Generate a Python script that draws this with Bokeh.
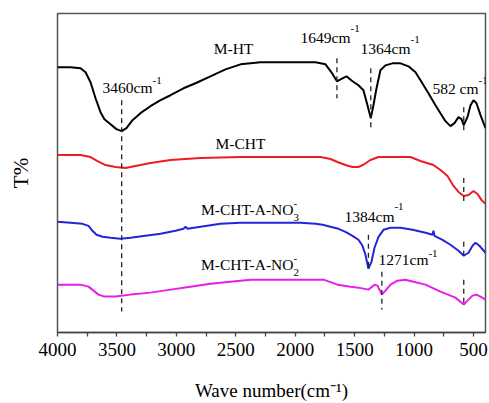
from bokeh.plotting import figure
from bokeh.models import Range1d, FixedTicker, ColumnDataSource
from bokeh.core.properties import value
from bokeh.embed import file_html
from bokeh.resources import INLINE

# FTIR spectra (wavenumber in cm^-1, transmittance in offset arbitrary units)
wn_ht = [4000, 3891, 3806, 3764, 3722, 3680, 3638, 3605, 3554, 3504, 3460, 3420, 3369,
         3302, 3218, 3133, 3049, 2940, 2839, 2713, 2587, 2460, 2292, 2040, 1829, 1745,
         1695, 1649, 1619, 1569, 1518, 1468, 1426, 1392, 1364, 1342, 1316, 1283, 1241,
         1182, 1114, 1047, 988, 946, 879, 820, 778, 736, 694, 660, 626, 601, 582, 551,
         525, 500, 475, 441, 399]
t_ht = [265, 265, 264, 260, 250, 234, 220, 213, 208, 203, 201, 204, 212,
        219, 226, 232, 237, 244, 249, 256, 263, 268, 270, 270, 270, 268,
        260, 251, 253, 256, 251, 247, 242, 227, 214, 227, 244, 262, 267,
        269, 269, 266, 260, 252, 239, 227, 219, 211, 206, 209, 215, 213, 207, 215,
        227, 232, 229, 217, 204]

wn_cht = [4000, 3806, 3722, 3663, 3596, 3512, 3428, 3344, 3218, 3049, 2797, 2460, 2124,
          1787, 1703, 1644, 1577, 1518, 1468, 1417, 1367, 1299, 1198, 1030, 946, 837,
          778, 719, 668, 626, 582, 542, 500, 466, 433, 399]
t_cht = [177, 177, 175, 171, 167, 165, 164, 166, 169, 172, 174, 175, 175,
         175, 173, 170, 167, 165, 165, 168, 172, 175, 175, 175, 171, 167,
         162, 156, 146, 140, 136, 137, 141, 138, 132, 128]

wn_no3 = [4000, 3891, 3790, 3739, 3706, 3672, 3621, 3554, 3470, 3386, 3260, 3133, 3007,
          2940, 2923, 2906, 2797, 2629, 2460, 2208, 1956, 1829, 1770, 1703, 1636, 1577,
          1518, 1468, 1434, 1409, 1384, 1358, 1333, 1299, 1257, 1198, 1114, 1013, 904,
          845, 837, 828, 761, 694, 626, 582, 542, 508, 483, 450, 399]
t_no3 = [110, 109, 108, 106, 101, 97, 95, 94, 93, 94, 96, 98, 101,
         103, 105, 103, 105, 108, 109, 109, 109, 108, 107, 105, 103, 100,
         96, 92, 86, 77, 63, 70, 84, 95, 102, 104, 104, 102, 99,
         97, 101, 96, 92, 87, 81, 76, 79, 86, 89, 86, 79]

wn_no2 = [4000, 3806, 3739, 3697, 3655, 3605, 3512, 3386, 3218, 3049, 2881, 2713, 2545,
          2376, 2124, 1871, 1762, 1644, 1535, 1468, 1384, 1333, 1308, 1283, 1271, 1241,
          1198, 1140, 1072, 1005, 904, 778, 652, 582, 559, 508, 475, 441, 399]
t_no2 = [47, 47, 45, 41, 37, 35, 35, 37, 39, 42, 45, 48, 50,
         52, 52, 52, 52, 47, 45, 44, 42, 47, 46, 40, 37, 41,
         47, 51, 52, 50, 47, 40, 34, 27, 30, 36, 37, 35, 32]

# Band markers: wavenumber, top and bottom of each dashed guide
band_wn = [3460, 1649, 1364, 582, 582, 582, 582, 1384, 1271]
band_top = [232, 274, 264, 225, 154, 90, 52, 97, 60]
band_bottom = [20, 234, 204, 199, 127, 75, 25, 62, 22]

# Annotation texts
ann_text = ["M-HT", "3460cm", "1649cm", "1364cm", "582 cm", "M-CHT",
            "M-CHT-A-NO", "M-CHT-A-NO", "1384cm", "1271cm"]
ann_x = [2519, 3201, 1535, 1030, 458, 2671, 2015, 2015, 1165, 879]
ann_y = [284, 245, 295, 284, 244, 189, 122, 67, 115, 72]
ann_align = ["center", "right", "right", "right", "right", "left",
             "right", "right", "right", "right"]

small_text = ["-1", "-1", "-1", "-1", "-", "3", "-", "2", "-1", "-1"]
small_x = [3201, 1535, 1030, 458, 2015, 2015, 2015, 2015, 1165, 879]
small_y = [252, 304, 293, 252, 128, 114, 73, 59, 125, 78]

x_ticks = [4000, 3500, 3000, 2500, 2000, 1500, 1000, 500]
x_minor = [3750, 3250, 2750, 2250, 1750, 1250, 750]

FONT = "Liberation Serif"

p = figure(width=489, height=403, output_backend="svg", toolbar_location=None,
           x_range=Range1d(4000, 399), y_range=Range1d(-1, 319),
           min_border_left=57, min_border_right=4, min_border_top=13,
           min_border_bottom=70)
p.background_fill_color = "white"
p.border_fill_color = "white"
p.outline_line_color = "#555555"
p.outline_line_width = 1.5
p.xgrid.visible = False
p.ygrid.visible = False

ax = p.xaxis[0]
ax.ticker = FixedTicker(ticks=x_ticks, minor_ticks=x_minor)
ax.axis_line_color = "#444444"
ax.axis_line_width = 1.5
ax.major_tick_line_color = "#444444"
ax.minor_tick_line_color = "#444444"
ax.major_tick_line_width = 1.3
ax.minor_tick_line_width = 1.3
ax.major_tick_in = 0
ax.major_tick_out = 4
ax.minor_tick_in = 0
ax.minor_tick_out = 4
ax.major_label_text_font = FONT
ax.major_label_text_font_size = "19px"
ax.major_label_text_color = "black"
ax.major_label_standoff = 6
ax.axis_label = "Wave number(cm\u207b\u00b9)"
ax.axis_label_text_font = FONT
ax.axis_label_text_font_size = "19px"
ax.axis_label_text_font_style = "normal"
ax.axis_label_text_color = "black"
ax.axis_label_standoff = 21

ay = p.yaxis[0]
ay.ticker = FixedTicker(ticks=[])
ay.axis_line_color = None
ay.major_tick_line_color = None
ay.minor_tick_line_color = None
ay.axis_label = "T%"
ay.axis_label_text_font = FONT
ay.axis_label_text_font_size = "21px"
ay.axis_label_text_font_style = "normal"
ay.axis_label_text_color = "black"
ay.axis_label_standoff = 25

p.line(wn_ht, t_ht, line_color="black", line_width=2)
p.line(wn_cht, t_cht, line_color="#ee1c24", line_width=2)
p.line(wn_no3, t_no3, line_color="#2424d8", line_width=2)
p.line(wn_no2, t_no2, line_color="#e81ee8", line_width=2)

p.segment(x0=band_wn, y0=band_top, x1=band_wn, y1=band_bottom,
          line_color="#222222", line_width=1.3, line_dash="5 4")

ann = ColumnDataSource(dict(x=ann_x, y=ann_y, t=ann_text, a=ann_align))
p.text(x="x", y="y", text="t", text_align="a", source=ann,
       text_baseline="middle", text_font=value(FONT),
       text_font_size="15.5px", text_color="black")

sm = ColumnDataSource(dict(x=small_x, y=small_y, t=small_text))
p.text(x="x", y="y", text="t", source=sm, text_align="left",
       text_baseline="middle", text_font=value(FONT),
       text_font_size="11px", text_color="black")

open("out.html", "w").write(file_html(p, INLINE))
